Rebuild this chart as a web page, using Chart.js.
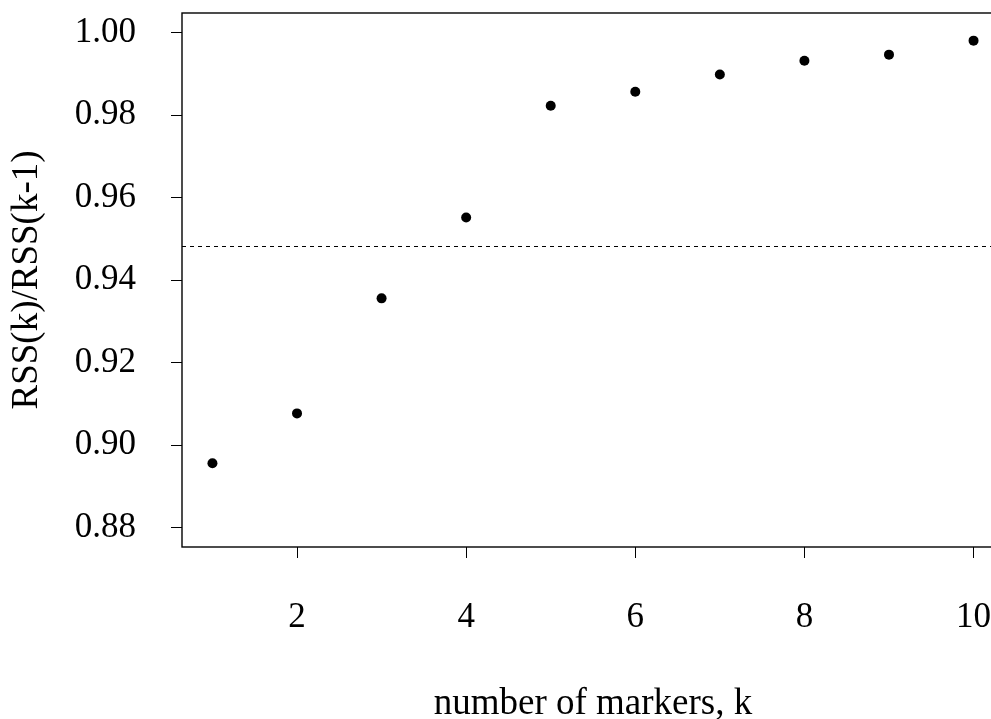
<!DOCTYPE html>
<html>
<head>
<meta charset="utf-8">
<script src="https://cdn.jsdelivr.net/npm/chart.js@4.4.1/dist/chart.umd.min.js"></script>
<style>
html, body { margin: 0; padding: 0; overflow: hidden; background: #fff; }
#wrap { width: 1020px; height: 740px; }
</style>
</head>
<body>
<div id="wrap"><canvas id="plot" width="1020" height="740"></canvas></div>
<script>
// number of markers k and the ratio RSS(k)/RSS(k-1)
var kValues = [1, 2, 3, 4, 5, 6, 7, 8, 9, 10];
var rssRatio = [0.8956, 0.9077, 0.9356, 0.9552, 0.9823, 0.9857, 0.9899, 0.9932, 0.9947, 0.9981];
var cutoff = 0.9484;
var xTicks = [2, 4, 6, 8, 10];
var yTicks = [0.88, 0.90, 0.92, 0.94, 0.96, 0.98, 1.00];

var serif = "'Liberation Serif', 'Times New Roman', serif";

// box around the plot region + dotted reference line
var boxPlugin = {
    id: "box",
    afterDatasetsDraw: function (chart) {
        var ctx = chart.ctx;
        var a = chart.chartArea;
        var y = chart.scales.y.getPixelForValue(cutoff);
        ctx.save();
        ctx.strokeStyle = "#000";
        ctx.lineWidth = 1;
        ctx.setLineDash([4, 4]);
        ctx.beginPath();
        ctx.moveTo(a.left, Math.round(y) + 0.5);
        ctx.lineTo(a.right, Math.round(y) + 0.5);
        ctx.stroke();
        ctx.setLineDash([]);
        ctx.lineWidth = 1.4;
        ctx.strokeRect(a.left, a.top, a.right - a.left, a.bottom - a.top);
        ctx.restore();
    }
};

var points = kValues.map(function (k, i) {
    return { x: k, y: rssRatio[i] };
});

new Chart(document.getElementById("plot"), {
    type: "scatter",
    data: {
        datasets: [{
            data: points,
            pointRadius: 5,
            pointHoverRadius: 5,
            pointBackgroundColor: "#000",
            pointBorderWidth: 0
        }]
    },
    options: {
        responsive: false,
        animation: false,
        layout: { padding: { top: 13, right: 16, bottom: 0, left: 0 } },
        plugins: {
            legend: { display: false },
            tooltip: { enabled: false }
        },
        scales: {
            x: {
                type: "linear",
                min: 0.64,
                max: 10.36,
                afterBuildTicks: function (scale) {
                    scale.ticks = xTicks.map(function (v) { return { value: v }; });
                },
                afterFit: function (scale) {
                    scale.height = 193;
                    scale.paddingLeft = 0;
                    scale.paddingRight = 0;
                },
                grid: { drawOnChartArea: false, drawTicks: true, tickLength: 11, color: "#000", lineWidth: 1 },
                border: { display: false },
                ticks: {
                    padding: 39,
                    maxRotation: 0,
                    color: "#000",
                    font: { family: serif, size: 35 },
                    callback: function (v) { return String(v); }
                },
                title: {
                    display: true,
                    text: "number of markers, k",
                    color: "#000",
                    font: { family: serif, size: 37 },
                    padding: { top: 0, bottom: 14 }
                }
            },
            y: {
                min: 0.8753,
                max: 1.0048,
                afterBuildTicks: function (scale) {
                    scale.ticks = yTicks.map(function (v) { return { value: v }; });
                },
                afterFit: function (scale) {
                    scale.width = 182;
                    scale.paddingTop = 0;
                    scale.paddingBottom = 0;
                },
                grid: { drawOnChartArea: false, drawTicks: true, tickLength: 11, color: "#000", lineWidth: 1 },
                border: { display: false },
                ticks: {
                    padding: 35,
                    color: "#000",
                    font: { family: serif, size: 35 },
                    callback: function (v) { return v.toFixed(2); }
                },
                title: {
                    display: true,
                    text: "RSS(k)/RSS(k-1)",
                    color: "#000",
                    font: { family: serif, size: 37 },
                    padding: { top: 5, bottom: 0 }
                }
            }
        }
    },
    plugins: [boxPlugin]
});
</script>
</body>
</html>
